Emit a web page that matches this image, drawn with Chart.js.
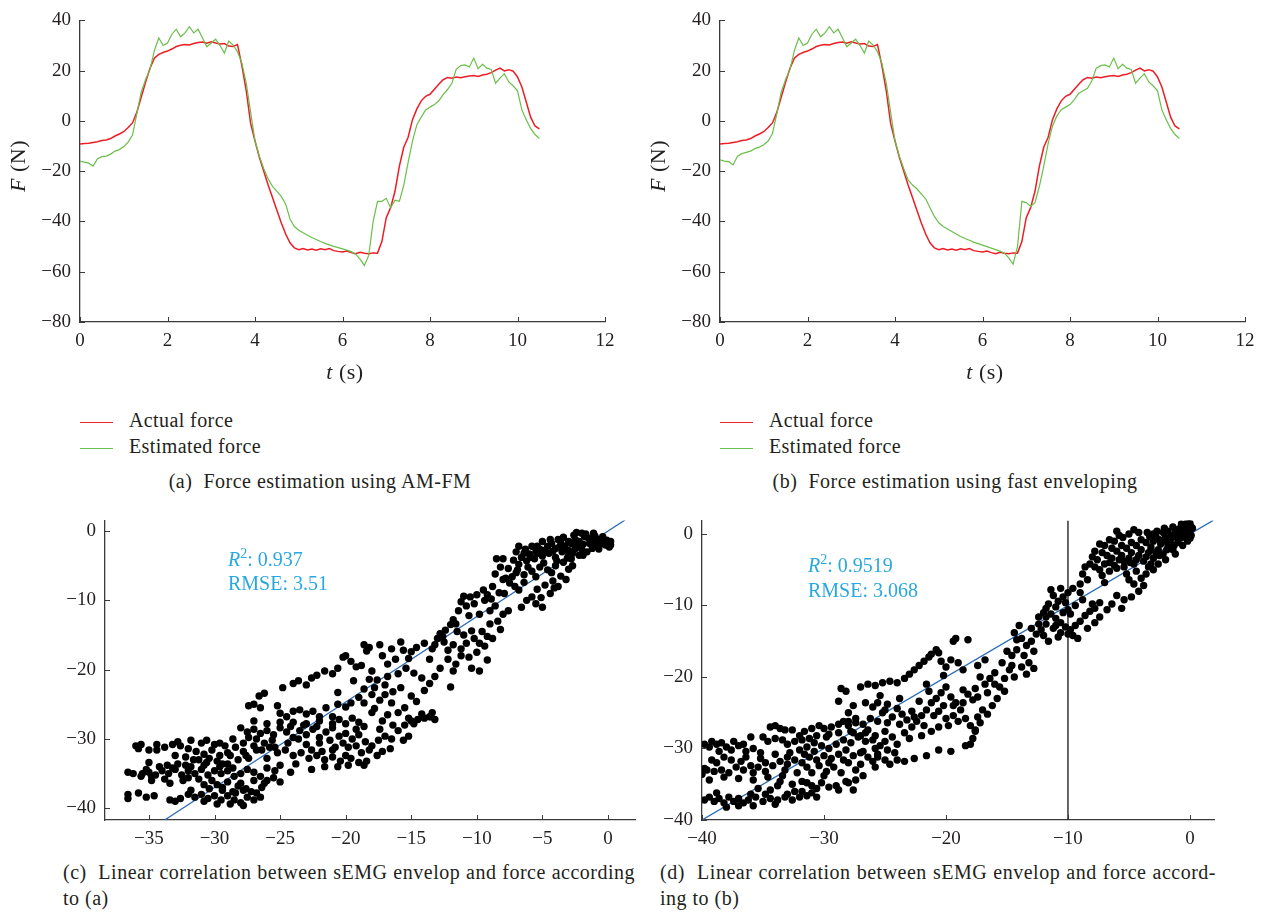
<!DOCTYPE html>
<html>
<head>
<meta charset="utf-8">
<script src="https://cdn.jsdelivr.net/npm/chart.js@4.4.1/dist/chart.umd.min.js"></script>
<style>
  body { margin: 0; background: #fff; width: 1271px; height: 913px; position: relative; overflow: hidden;
         font-family: "Liberation Serif", "DejaVu Serif", serif; color: #231f20; }
  .box { position: absolute; }
  .ytitle { position: absolute; font-size: 22px; letter-spacing: 0.5px; transform: translate(-50%, -50%) rotate(-90deg); white-space: nowrap; }
  .xtitle { position: absolute; font-size: 22px; letter-spacing: 0.5px; transform: translate(-50%, -50%); white-space: nowrap; }
  .leg { position: absolute; font-size: 20px; letter-spacing: 0.4px; white-space: nowrap; line-height: 22px; }
  .leg span.ln { display: inline-block; width: 33px; height: 0; border-top: 1.5px solid; vertical-align: middle; margin-right: 16px; }
  .stat { position: absolute; color: #29a8e0; font-size: 20px; white-space: nowrap; line-height: 1; }
  .cap { position: absolute; font-size: 20px; letter-spacing: 0.5px; white-space: nowrap; line-height: 22px; }
  .mid { transform: translateX(-50%); }
  .just { text-align: justify; text-align-last: justify; }
</style>
</head>
<body>

<div class="box" style="left:0;top:0;width:640px;height:390px"><canvas id="chartA"></canvas></div>
<div class="box" style="left:640px;top:0;width:631px;height:390px"><canvas id="chartB"></canvas></div>
<div class="box" style="left:0;top:500px;width:640px;height:360px"><canvas id="chartC"></canvas></div>
<div class="box" style="left:640px;top:500px;width:631px;height:360px"><canvas id="chartD"></canvas></div>

<div class="ytitle" style="left:18px;top:166px"><i>F</i> (N)</div>
<div class="xtitle" style="left:345px;top:372px"><i>t</i> (s)</div>
<div class="ytitle" style="left:658px;top:166px"><i>F</i> (N)</div>
<div class="xtitle" style="left:985px;top:372px"><i>t</i> (s)</div>

<div class="leg" style="left:80px;top:409px"><span class="ln" style="border-color:#e8262a"></span>Actual force</div>
<div class="leg" style="left:80px;top:435px"><span class="ln" style="border-color:#6abf4b"></span>Estimated force</div>
<div class="leg" style="left:720px;top:409px"><span class="ln" style="border-color:#e8262a"></span>Actual force</div>
<div class="leg" style="left:720px;top:435px"><span class="ln" style="border-color:#6abf4b"></span>Estimated force</div>

<div class="cap mid" style="left:320px;top:470px">(a)&nbsp; Force estimation using AM-FM</div>
<div class="cap mid" style="left:955px;top:470px">(b)&nbsp; Force estimation using fast enveloping</div>

<div class="stat" style="left:228px;top:547px"><i>R</i><sup style="font-size:14px">2</sup>: 0.937</div>
<div class="stat" style="left:228px;top:573px">RMSE: 3.51</div>
<div class="stat" style="left:808px;top:553px"><i>R</i><sup style="font-size:14px">2</sup>: 0.9519</div>
<div class="stat" style="left:808px;top:580px">RMSE: 3.068</div>

<div class="cap just" style="left:63px;top:861px;width:572px">(c)&nbsp; Linear correlation between sEMG envelop and force according</div>
<div class="cap" style="left:63px;top:887px">to (a)</div>
<div class="cap just" style="left:660px;top:861px;width:556px">(d)&nbsp; Linear correlation between sEMG envelop and force accord-</div>
<div class="cap" style="left:660px;top:887px">ing to (b)</div>

<script>
// time axis (s)
var timeS = [0.0,0.1,0.2,0.3,0.4,0.5,0.6,0.7,0.8,0.9,1.0,1.1,1.2,1.3,1.4,1.5,1.6,1.7,1.8,1.9,
  2.0,2.1,2.2,2.3,2.4,2.5,2.6,2.7,2.8,2.9,3.0,3.1,3.2,3.3,3.4,3.5,3.6,3.7,3.8,3.9,
  4.0,4.1,4.2,4.3,4.4,4.5,4.6,4.7,4.8,4.9,5.0,5.1,5.2,5.3,5.4,5.5,5.6,5.7,5.8,5.9,
  6.0,6.1,6.2,6.3,6.4,6.5,6.6,6.7,6.8,6.9,7.0,7.1,7.2,7.3,7.4,7.5,7.6,7.7,7.8,7.9,
  8.0,8.1,8.2,8.3,8.4,8.5,8.6,8.7,8.8,8.9,9.0,9.1,9.2,9.3,9.4,9.5,9.6,9.7,9.8,9.9,
  10.0,10.1,10.2,10.3,10.4,10.5];

// measured force (N)
var actualForce = [-9.2,-9.0,-8.9,-8.6,-8.3,-7.8,-7.6,-7.0,-6.0,-5.2,-4.3,-2.6,-0.8,3.5,9.5,15.5,21.0,25.0,26.5,27.2,
  27.8,28.6,29.6,30.1,30.4,30.2,30.8,31.2,31.4,30.9,31.5,31.0,30.6,30.8,29.8,29.6,30.4,22.0,12.0,-1.0,
  -8.0,-14.5,-20.0,-25.5,-30.5,-35.5,-40.5,-45.0,-48.5,-50.5,-51.2,-50.8,-51.3,-51.0,-51.4,-50.9,-51.2,-50.8,-51.6,-51.9,
  -52.1,-51.8,-52.4,-52.8,-52.3,-52.6,-52.8,-52.5,-52.6,-48.0,-38.5,-34.5,-28.0,-18.0,-10.5,-6.5,0.5,4.8,8.0,9.8,
  10.6,12.6,14.6,16.4,17.3,17.0,17.5,17.2,17.6,17.9,18.1,17.7,18.3,18.6,19.2,20.2,21.0,19.9,20.4,19.8,
  17.5,13.5,7.5,1.5,-2.0,-3.2];

// estimated force, AM-FM (N)
var estimatedAmFm = [-16.0,-16.4,-16.8,-18.0,-15.0,-14.2,-14.0,-13.2,-12.0,-11.4,-10.2,-8.4,-5.6,3.0,11.5,16.5,20.5,28.0,33.0,30.0,
  31.0,34.5,36.5,33.5,35.0,37.5,35.0,36.5,33.0,29.5,31.0,32.5,30.0,27.0,31.8,30.2,27.5,23.0,15.0,3.5,
  -8.0,-14.0,-19.0,-23.0,-26.0,-28.0,-30.0,-33.0,-39.0,-42.0,-43.5,-44.5,-45.5,-46.4,-47.2,-48.0,-48.7,-49.3,-49.9,-50.4,
  -50.9,-51.4,-52.0,-53.0,-55.0,-57.5,-53.5,-40.0,-32.0,-32.0,-30.8,-34.5,-31.5,-32.0,-25.6,-16.5,-8.0,-1.5,1.5,4.4,
  5.5,6.5,8.0,10.5,12.5,15.0,20.5,22.0,22.3,21.5,25.0,20.8,22.5,21.0,20.5,15.0,17.0,18.8,15.5,14.0,
  12.0,4.4,0.5,-3.0,-5.4,-7.0];

// estimated force, fast enveloping (N)
var estimatedFast = [-15.5,-16.0,-16.2,-17.5,-14.0,-13.0,-12.5,-12.0,-11.0,-10.4,-9.5,-8.0,-5.0,3.0,11.5,16.5,20.5,28.0,33.0,30.0,
  31.0,34.5,36.5,33.5,35.0,37.5,35.0,36.5,33.0,29.5,31.0,32.5,30.0,27.0,31.8,30.2,27.5,23.0,15.0,3.5,
  -8.0,-14.0,-19.0,-23.5,-25.5,-27.0,-29.0,-31.0,-34.5,-38.0,-40.5,-42.0,-43.0,-44.0,-45.0,-46.0,-46.8,-47.5,-48.2,-48.8,
  -49.4,-50.0,-50.6,-51.2,-51.8,-52.6,-54.5,-57.0,-50.0,-32.0,-32.5,-34.0,-32.5,-26.0,-18.0,-9.0,-2.0,2.0,4.5,5.5,
  6.5,8.5,11.0,12.0,13.0,16.0,21.0,22.0,22.3,21.5,25.0,20.8,22.5,21.0,20.5,15.0,17.0,18.8,15.5,14.0,
  12.0,4.4,0.5,-3.0,-5.4,-7.0];

var timeTicks = [0, 2, 4, 6, 8, 10, 12];
var forceTicks = [-80, -60, -40, -20, 0, 20, 40];
var corrTicksCx = [-35, -30, -25, -20, -15, -10, -5, 0];
var corrTicksCy = [-40, -30, -20, -10, 0];
var corrTicksDx = [-40, -30, -20, -10, 0];
var corrTicksDy = [-40, -30, -20, -10, 0];

// envelope vs force points, panel (c)
var corrPointsC = [
  [-2,-0.3],[-1.8,-0.8],[-1.5,-1],[-1.2,-1.2],[-1,-0.7],[-0.8,-1.5],[-0.5,-1.2],[-0.3,-1.6],[0,-1.8],[0.2,-2],[0.2,-1.5],[0.1,-2.3],
  [-0.2,-2],[-0.6,-1.9],[-1,-2.2],[-1.4,-1.8],[-2.2,-1.5],[-2.5,-1.2],[-2.8,-1.8],[-3,-1.5],[-3.3,-2.2],[-3.6,-1.6],[-4,-2.5],
  [-4.3,-1.8],[-4.6,-2.2],[-5,-1.5],[-5.2,-2.6],[-5.5,-3],[-5.8,-2.2],[-6,-3.3],[-6.3,-2.6],[-6.6,-3.8],[-7,-3],[-7.2,-4.2],
  [-6.8,-4.8],[-6.2,-4.3],[-5.6,-4],[-5,-3.6],[-4.5,-3.2],[-4,-3.8],[-3.5,-3],[-3,-2.8],[-2.5,-2.5],[-2,-2.6],[-1.6,-3],
  [-2.2,-3.5],[-2.8,-4],[-3.4,-4.5],[-4,-5],[-4.6,-5.6],[-5.2,-5.2],[-5.8,-5.8],[-6.4,-6.3],[-7,-6],[-7.6,-5.4],[-7.8,-6.8],
  [-8,-4],[-7.5,-7.5],[-3,-3.5],[-1.2,-2.5],[-0.4,-0.8],[-2.6,-0.6],[-3.8,-1.2],
  [-6.8,-2.2],[-6.4,-3.2],[-5.9,-3.8],[-5.3,-3.2],[-4.9,-2.8],[-4.2,-2.9],[-3.7,-2.3],[-3.2,-2.7],[-2.7,-3.2],[-2.3,-2.1],
  [-1.9,-1.9],[-1.3,-1.6],[-0.9,-1.1],[-0.1,-1.3],[0.1,-1.7],[-1.7,-0.4],[-2.4,-0.2],[-3.4,-0.9],[-4.4,-1.2],[-5.4,-2.2],
  [-6.1,-5.2],[-6.9,-5.6],[-7.3,-6.6],[-4.9,-4.6],[-3.9,-4.3],[-3.1,-3.9],[-4.3,-6],[-5.5,-6.6],[-6.4,-7.4],[-7.1,-8],
  [-8.3,-8.9],[-8.9,-9.8],[-7.9,-9],[-6.8,-8.5],[-5.1,-9.6],[-4.1,-8.2],[-2.7,-5],[-1.1,-0.3],[-0.7,-2.6],[-1.9,-3.5],
  [-3,-5.5],[-3.6,-6.5],[-4.2,-7.2],[-4.8,-7.8],[-5.4,-8.4],[-5.8,-9.5],[-6.2,-10],[-6.6,-11],[-5,-11],[-5.5,-10.5],
  [-4.4,-9],[-3.8,-8],[-3.2,-7],
  [-8.5,-4],[-8.2,-5.2],[-8.6,-6.2],[-8,-7],[-8.8,-8],[-9.5,-8.5],[-10,-9.2],[-10.5,-9.5],[-11,-9.4],[-11.2,-10.2],
  [-10.2,-10.5],[-9.4,-10],[-8.6,-10.8],[-9,-11.5],[-9.8,-12],[-10.6,-12.2],[-11.4,-11.5],[-11.8,-12.8],[-12,-13.5],
  [-12.4,-14.3],[-12.8,-14.8],[-11.5,-14.5],[-11,-15],[-10.2,-15.5],[-9.6,-14.5],[-9,-13.4],[-8.4,-13],[-8,-12],
  [-7.6,-11.5],[-8.2,-14.2],[-8.8,-15.5],[-9.4,-16.6],[-10,-17.5],[-10.6,-18.2],[-11.2,-17],[-11.8,-16.4],[-12.5,-16],
  [-13,-15.5],[-13.4,-17],[-12.2,-18.5],[-11.6,-19.2],[-10.4,-19.8],[-9.8,-20.2],[-12.8,-19.8],[-13.6,-18.5],[-12,-22.5],[-9.2,-18.6],
  [-9.2,-9.2],[-10.8,-10.8],[-11.6,-13.4],[-10.4,-14.4],[-9.2,-15.2],[-12.6,-15.2],[-11.2,-18],[-10.8,-16.2],[-13.2,-16.4],
  [-12.2,-17.2],[-11.8,-20.2],[-9.8,-16.2],
  [-14,-16.2],[-14.6,-16.8],[-15,-17.4],[-15.6,-17.2],[-16.2,-18.5],[-16.8,-19.2],[-15.4,-19.8],[-14.8,-20.5],[-14.2,-21.2],
  [-13.6,-22],[-13.2,-21],[-14,-23],[-15,-23.8],[-15.8,-22.6],[-16.4,-23.2],[-17,-22.2],[-17.6,-21.5],[-16.5,-24.8],
  [-15.5,-25.5],[-14.6,-24.6],[-14.2,-26.4],[-13.6,-26.8],[-15.2,-27],[-16,-26.2],[-16.8,-26.5],[-17.4,-24.4],[-18,-23.6],
  [-18.6,-24.8],[-17.8,-25.6],[-17.2,-27.4],[-16.4,-28],[-13.4,-26.2],[-14.8,-27.8],
  [-27,-25],[-26.5,-25.5],[-27.4,-25.2],[-26.2,-23.4],[-26.6,-23.8],[-25.2,-25.2],[-24.8,-22.6],[-24,-22],[-23.6,-21.6],
  [-23,-22.2],[-22.6,-21.2],[-22.2,-20.8],[-21.6,-20.2],[-21,-20.6],[-20.6,-19.8],[-20.2,-18.2],[-20,-18],[-19.6,-18.8],
  [-19.2,-19.6],[-18.8,-19.4],[-18.6,-16.4],[-18.2,-16.8],[-18.4,-17.3],[-17.4,-16.4],[-18,-20.2],[-17.2,-18],[-16.5,-17],
  [-15.8,-16],[-19.4,-21.6],[-20.6,-23.3],[-16,-20.6],[-15.2,-18.4],
  [-25,-26.3],[-24.5,-26.8],[-24,-26],[-23.5,-25.8],[-23,-26.4],[-22.5,-26],[-22,-26.8],[-21.5,-25.5],[-21,-26.8],
  [-20.5,-27.2],[-20,-27.8],[-19.5,-27],[-19,-27.6],[-18.6,-28.2],
  [-28,-28.4],[-27.5,-29],[-27,-28.6],[-26.5,-29.2],[-26,-28.8],[-25.5,-29.4],[-25,-28.4],[-24.5,-29],[-24,-29.8],
  [-23.5,-28.8],[-23,-29.4],[-22.5,-28.6],[-22,-29.8],[-21.5,-29],[-21,-28.4],[-20.5,-29.6],[-20,-29.2],[-19.5,-30],
  [-19,-29.4],[-18.5,-30.4],[-18,-31],[-17.5,-30.2],[-17,-29.6],[-16.5,-30],[-16,-28.8],[-15.5,-28],[-15,-27.4],
  [-15.2,-29.6],[-15.6,-30.2],[-14.5,-27.2],[-14,-27],[-13.5,-26.8],[-13.2,-27.2],
  [-27,-31],[-26.4,-31.6],[-25.8,-31.2],[-25.2,-32],[-24.6,-31.6],[-24,-32.4],[-23.4,-32],[-22.8,-32.8],[-22.2,-32.4],
  [-21.6,-33],[-21,-32.6],[-20.4,-33.2],[-20,-32.4],[-19.6,-32.8],[-19,-33.4],[-18.6,-33.8],[-18.4,-33.2],[-23.8,-33.6],
  [-25,-33.8],[-26,-34.2],[-21,-31.6],[-19.8,-31.2],[-22,-30.6],[-23,-30.8],[-24.4,-30.6],[-25.6,-30.2],[-26.8,-30],
  [-27,-27.4],[-26,-27.8],[-25,-27.6],[-24,-27.6],[-23,-27.8],[-22,-27.4],[-21,-27.8],[-20,-25.4],[-19.6,-24.8],
  [-20.6,-25],[-19,-24],[-18.6,-22.8],[-18.2,-21.4],[-17.8,-22.6],[-16.8,-21],[-17,-23.6],[-18,-26.2],[-17.4,-28.6],
  [-16.6,-31.4],[-17.2,-31.8],[-18.8,-32],[-19.2,-28.6],[-26,-32.8],[-27.6,-32.4],
  [-24.2,-28.2],[-23.2,-28],[-22.2,-28.2],[-21.2,-30.2],[-20.2,-30.6],[-19.2,-31],[-18.2,-31.6],[-17.6,-32.4],[-23.6,-30],
  [-25.4,-31.2],[-26.2,-30.6],[-22.6,-31.6],[-21.8,-31.8],[-20.8,-31.2],[-19.8,-33.8],[-20.6,-34],[-21.6,-34],[-22.6,-34.4],
  [-24.2,-34.8],[-25.4,-34.6],
  [-36,-31],[-35.6,-30.8],[-35,-31.6],[-34.4,-31.6],[-33.8,-31.2],[-33.2,-30.8],[-32.6,-31],[-32,-31.4],[-31.4,-31.8],
  [-30.8,-32.2],[-30.2,-31.6],[-29.6,-32.4],[-29,-32],[-28.4,-31.2],[-27.8,-30.6],[-31,-30.6],[-30,-30.8],[-29.2,-31],
  [-33,-32.4],[-32.2,-32.6],[-31.6,-33],[-30.6,-33.4],[-29.8,-33.2],[-29,-33.6],[-28.2,-33],[-27.4,-32.8],
  [-35.5,-35],[-35,-34.8],[-34.5,-35.2],[-34,-34.6],[-33.5,-35],[-33,-34.4],[-32.5,-35.2],[-32,-34.6],[-31.5,-35],
  [-31,-34.4],[-30.5,-35.2],[-30,-34.6],[-29.5,-35],[-29,-34.6],[-28.5,-35.4],[-28,-35],[-27.5,-34.4],[-27,-34.8],
  [-26.5,-35.4],[-26,-36],[-25.5,-35.6],[-25,-36.2],[-33.6,-33.8],[-32.8,-33.6],[-31.8,-34],[-30.8,-33.8],[-29.6,-34],
  [-28.6,-34.2],[-34.8,-36],[-33.8,-35.8],[-32.4,-36],[-31.2,-35.8],[-30.2,-36],[-29,-36.2],[-28,-36.4],[-27,-36],
  [-26.4,-37],[-27.6,-37.2],
  [-35.2,-34.4],[-34.2,-34],[-33.2,-34.2],[-32.2,-33.8],[-31.2,-33],[-30.4,-32.8],[-29.4,-33.6],[-28.8,-32.4],[-27.8,-31.8],
  [-26.8,-31.6],[-34.4,-30.8],[-32.8,-30.4],[-31.8,-30.2],[-30.6,-30.2],[-29.6,-30.6],[-28.6,-30],[-27.4,-29.8],[-34.8,-35.4],
  [-33.4,-36.4],[-32,-35.6],[-30.8,-36.6],[-29.4,-37],[-28.4,-37.8],[-27.2,-37.6],[-26.2,-36.4],[-31.8,-37.4],[-30.8,-39],
  [-29.8,-39.4],[-28.8,-39.4],[-33.4,-38.8],[-32.6,-38.6],[-36.2,-35],[-35,-33.4],[-36.6,-34.8],
  [-33,-39],[-32,-38],[-31.5,-38.4],[-31,-38],[-30.5,-38.6],[-30,-38.2],[-29.5,-38.8],[-29,-38.2],[-28.5,-38.8],
  [-28,-39.2],[-27.8,-39.6],[-27.5,-38.4],[-27,-38.8],[-26.5,-38.4],[-29.4,-37.4],[-28.6,-37.6],[-27.8,-37.4],
  [-30.4,-37.2],[-29.8,-36.6],[-26.8,-37.8],[-28.2,-36.8],
  [-36.6,-38],[-36.6,-38.6],[-35.8,-37.8],[-35.2,-38.4],[-34.6,-38.2],[-35.8,-31.4],[-35.6,-35.4]
];

// envelope vs force points, panel (d)
var corrPointsD = [
  [0,1.5],[0.1,1],[-0.2,0.6],[-0.4,1.2],[-0.6,0.3],[-0.8,0.8],[-1,0.2],[-1.2,0.6],[-1.5,-0.2],[-1.8,0.4],[-2,-0.5],
  [-2.2,0.2],[-2.5,-0.8],[-2.8,-0.2],[-3,-1],[-3.3,-0.4],[-3.6,-1.2],[-4,-0.8],[-4.4,-1.6],[-4.8,-1.2],[-5.2,-2],
  [-5.6,-1.6],[-6,-2.4],[-6.4,-2],[-6.8,-3],[-7.2,-2.6],[-7.6,-3.6],[-8,-3.2],[-8.2,-4.2],[-7.8,-4.6],[-7.4,-5],
  [-7,-4.2],[-6.6,-5.2],[-6.2,-4.4],[-5.8,-3.6],[-5.4,-4.6],[-5,-3.4],[-4.6,-4.2],[-4.2,-3],[-3.8,-3.8],[-3.4,-2.6],
  [-3,-3.4],[-2.6,-2.2],[-2.2,-2.8],[-1.8,-1.6],[-1.4,-2.2],[-1,-1.2],[-0.6,-1.6],[-0.3,-0.6],[0.1,-0.2],[0,0.4],
  [-0.2,-1],[-1.6,-0.8],[-2.4,-1.4],[-3.2,-1.8],[-4,-2.2],[-4.8,-2.6],[-5.6,-3],[-6.4,-3.4],[-0.5,-0.2],[-1.2,-0.4],
  [-2,-1],[-3,0],[-4.6,0.6],[-5.5,-0.5],[-6.2,-1],[-7,-1.6],[-6,0.4],
  [-0.4,0],[-0.8,-0.6],[-1.3,-1.6],[-1.9,-2.2],[-2.5,-3],[-3.2,-2.2],[-3.6,-3.2],[-4.4,-3.6],[-4.9,-4],[-5.4,-3.8],
  [-6,-4.8],[-6.6,-4],[-7.2,-5.8],[-0.2,1.6],[-0.7,1.4],[-1.4,1],[-2.1,0.8],[-2.7,0.4],[-3.5,0.2],[-4.2,0.2],[-5,0],
  [-5.8,-0.2],[-6.6,-0.8],[-7.4,-1.4],[-7.8,-2.4],[-8.6,-4.6],[-8.8,-5.6],[-7,-6.8],[-4.4,-5.2],[-3.2,-4.2],[-1.2,-2.8],
  [0.2,0.8],[0,-0.6],[-0.9,-0.2],
  [-2,-3.6],[-2.6,-4.2],[-3,-5],[-3.6,-5.6],[-4,-6.2],[-4.6,-7],[-5,-6.4],[-3.4,-4.6],[-4.2,-8],[-4.8,-8.8],[-5.4,-9.2],
  [-6,-8.6],[-6.4,-9.8],[-5.6,-10.4],[-6.8,-10.6],[-7.4,-9.6],[-7.8,-10.4],[-2.8,-2.6],[-3.8,-7.2],[-5.2,-5.6],
  [-8.4,-6.4],[-9,-7],[-9.6,-7.6],[-10,-8.2],[-10.4,-8.8],[-10.8,-9.4],[-11.2,-8.6],[-11.6,-9.8],[-11.8,-10.4],
  [-11.4,-11.2],[-11,-11.8],[-10.6,-12.4],[-10.2,-13],[-9.8,-13.4],[-9.4,-12.8],[-9,-12.2],[-8.6,-11.4],[-8.2,-10.8],
  [-8,-9.8],[-8.8,-9.2],[-9.4,-10],[-10,-10.6],[-9.6,-14.2],[-9.2,-14.6],[-10.6,-13.8],[-11.2,-13.2],[-11.8,-12.6],
  [-12.2,-13.4],[-12,-14.2],[-11.6,-15],[-10.8,-14.4],[-8.4,-13.2],[-7.8,-12.4],[-7.4,-11.6],[-9.8,-11.2],[-12.4,-11.6],
  [-11.8,-11.6],[-10.4,-11],
  [-10.2,-9.6],[-11,-10.2],[-9,-8.2],[-10.6,-7.6],[-11.4,-7.8],[-12,-11],[-12.4,-12.6],[-10,-14],[-11,-12.8],
  [-12.6,-14],[-13,-15],[-13.4,-15.6],[-13.8,-14.6],[-14.2,-16.2],[-14.6,-17],[-15,-16.4],[-14.4,-13.8],[-13.8,-18.6],
  [-13.2,-18],[-14.8,-19],[-15.4,-18],[-16,-19.4],[-16.4,-20.2],[-16.8,-21],[-17.2,-20],[-17.6,-21.6],[-16.6,-22.2],
  [-15.6,-21.4],[-15.2,-22],[-14.4,-20],[-13.4,-19.6],[-12.8,-18.8],[-15.8,-23],[-16.2,-24],[-16.6,-25.2],[-17,-24.6],
  [-17.4,-25.6],[-17.8,-23.2],[-18.2,-22.4],[-18.6,-21.8],[-16.8,-17.6],[-17.4,-18.4],[-14.2,-14.8],
  [-21,-25.4],[-22.6,-25.6],[-23.8,-26.6],[-25,-24.6],[-19.4,-24],[-18.6,-23.6],[-17.4,-22.8],[-16,-21],[-15.2,-20.2],
  [-14.6,-18.4],[-13.6,-17],[-12.8,-16.4],[-13,-13.2],[-14,-12.8],
  [-28.6,-21.6],[-28.2,-22],[-28.8,-23.4],[-27,-21.4],[-26.4,-21],[-25.8,-21.2],[-25.2,-20.8],[-24.6,-20.6],[-24,-20.8],
  [-23.4,-20.2],[-23,-19.6],[-22.6,-19],[-22.2,-18.4],[-21.8,-17.8],[-21.2,-16.8],[-20.8,-16.2],[-21.4,-17.2],
  [-20.4,-17.8],[-20,-18.6],[-19.4,-15],[-19.2,-14.6],[-18.2,-14.8],[-19.6,-17.6],[-19,-18],[-18.6,-19],[-20.6,-16.6],
  [-20.2,-19.8],[-21.6,-21],[-25.4,-22.6],[-26.6,-23.6],[-27.6,-24],[-28,-25],
  [-20,-21.4],[-20.4,-22.2],[-20.8,-23],[-20.2,-24],[-19.6,-22.8],[-19.2,-23.6],[-18.8,-24.6],[-19.4,-25.4],[-20,-25.8],
  [-20.6,-24.8],[-21.2,-23.6],[-21.6,-24.6],[-22,-25.4],[-22.4,-26.2],[-22.8,-27],[-23.2,-26],[-23.6,-25.2],[-24,-24.4],
  [-24.4,-25.6],[-24.8,-26.4],[-25.2,-25],[-25.6,-26.2],[-26,-24.2],[-25.6,-23.6],[-24.8,-23.8],[-23.8,-23],[-22.8,-24.8],
  [-21.8,-26.8],[-21.2,-27.6],[-20.6,-27],[-19.8,-26.8],[-19,-26.2],[-18.4,-25.8],[-18,-26.8],[-17.6,-27.6],[-17.2,-26.4],
  [-22.2,-23.4],[-21.4,-22],[-23.4,-27.8],[-24.4,-28.4],[-25,-27.6],[-25.8,-28.2],[-26.4,-27.4],[-27,-28.2],[-27.6,-27.8],
  [-28,-26.2],[-27.4,-25.8],[-26.8,-26.6],[-26.2,-25.8],[-23,-28.6],[-22,-28.2],[-24,-29.4],[-25,-29],
  [-17.6,-27.4],[-17.8,-28.6],[-18,-29.4],[-18.4,-29.6],[-19.6,-30.4],[-20.6,-30.2],[-21.6,-31],[-22.6,-31.4],
  [-23.4,-31.8],[-24,-31.6],
  [-39.2,-29],[-38.8,-29.4],[-38.4,-29.2],[-38,-29.8],[-37.6,-30.2],[-37,-29.6],[-36.4,-30.4],[-35.8,-30],[-35.2,-30.6],
  [-34.6,-29],[-34,-28.6],[-33.4,-28.8],[-33,-29.4],[-32.4,-29],[-31.8,-28.8],[-39.4,-29.8],[-38.6,-30.4],
  [-34.4,-27],[-34,-26.8],[-33.6,-27.2],[-33.2,-27.4],[-32.6,-27.4],[-31.6,-27.6],[-31,-27.2],[-30.4,-26.8],[-30,-27.2],
  [-29.4,-27],[-28.8,-26.6],[-28.4,-26.2],[-28,-26.8],[-27.4,-26.4],[-29.6,-28],[-30.6,-28.2],[-31.2,-28.6],[-32,-28.2],
  [-35,-28.4],[-36,-28.4],
  [-32,-30.2],[-31.4,-29.8],[-30.8,-30.4],[-30.2,-29.6],[-29.6,-30],[-29,-29.4],[-28.4,-28.8],[-27.8,-29.2],[-27.2,-28.4],
  [-26.6,-29],[-26,-28.8],[-25.4,-29.6],[-24.8,-30.2],[-24.2,-30.6],[-25.6,-30.8],[-26.4,-31.2],[-27,-30.6],[-27.6,-31],
  [-28.2,-30.2],[-28.8,-30.8],[-29.4,-31.4],[-30,-31],[-30.6,-31.6],[-31.2,-31.2],[-31.8,-32],[-32.4,-31.6],[-33,-32.2],
  [-33.6,-31.8],[-34.2,-32.4],[-34.8,-32],[-35.4,-32.6],[-36,-32.4],[-36.6,-33],[-37.2,-32.6],[-37.8,-33.4],[-38.4,-33],
  [-39,-33.2],[-39.6,-33],[-40,-33.2],[-38.8,-32],[-37.6,-31.6],[-36.4,-31.2],[-35.2,-31.4],[-34,-30.8],[-32.8,-30.6],
  [-31.6,-30.8],[-30.4,-32.4],[-29.2,-32.6],[-28,-32],[-27,-32.2],[-26,-31.8],[-25,-31.6],[-24.6,-32.2],[-25.8,-32.6],
  [-27.4,-33],[-28.6,-33.4],[-29.8,-33.2],[-31,-33.4],[-32.2,-33.4],[-33.4,-33.8],[-34.6,-34],[-35.8,-34.4],[-37,-34.2],
  [-38.2,-34],[-39.4,-34.4],[-33.8,-35.2],[-32.6,-35],[-31.4,-34.8],[-30.2,-34.8],[-29,-35.2],[-28.2,-34.6],[-27.4,-34.4],
  [-26.8,-33.8],[-28.8,-35.8],[-30.6,-35.6],[-31.8,-36],[-33,-36.4],[-34.4,-35.8],[-35.4,-35.6],[-28,-34.8],
  [-34.8,-33.2],[-33.2,-33],[-31.4,-32.6],[-29.6,-32],[-28.4,-31.6],[-26.8,-30.4],[-25.8,-30],[-30,-33.8],[-31.8,-34.6],
  [-33.6,-34.6],[-35.8,-33.4],[-36.8,-31.8],[-38.2,-31.2],[-39.2,-31.6],[-33,-31.2],[-30.8,-29.2],[-29.8,-28.4],
  [-28.8,-27.8],[-27.8,-27.6],[-26.6,-27.8],[-37.4,-29],[-36.6,-29.4],[-39.8,-29.4],[-38.8,-36.2],[-36,-36.4],
  [-34.8,-36.4],[-32.4,-36],[-31,-35.2],[-29.6,-35.4],[-27.6,-35.8],[-25.6,-31.2],
  [-39.8,-37.2],[-39.4,-36.8],[-39,-37.4],[-38.6,-37],[-38.2,-37.6],[-37.8,-36.8],[-37.4,-37.4],[-37,-37],[-36.6,-37.6],
  [-36.2,-37.2],[-35.6,-36.8],[-35,-37.4],[-34.4,-37],[-33.8,-37.2],[-33.2,-36.8],[-32.6,-37.2],[-32,-36.8],[-31.4,-36.6],
  [-31,-36.2],[-30.6,-36.8],[-38,-38.2],[-37,-38],[-35.8,-38],[-34,-37.8],[-40,-33.6],[-39.8,-32.8]
];

// fitted lines (endpoints)
var fitLineC = [[-33.8, -41.7], [1.3, 1.6]];
var fitLineD = [[-40, -40], [1.9, 1.9]];
var markerLineD = [[-10, -40], [-10, 1.9]];

var axisColor = '#3a3a3a';
var tickFont = { family: '"Liberation Serif", "DejaVu Serif", serif', size: 19 };

function toXY(xs, ys) { return xs.map((x, i) => ({ x: x, y: ys[i] })); }
function pairs(list) { return list.map(p => ({ x: p[0], y: p[1] })); }
function minus(v) { return String(v).replace('-', '\u2212'); }

// small tick marks drawn inside the plot, as in the figure
var innerTicks = {
    id: 'innerTicks',
    afterDraw(chart) {
        var ctx = chart.ctx, xs = chart.scales.x, ys = chart.scales.y;
        ctx.save();
        ctx.strokeStyle = axisColor;
        ctx.lineWidth = 1;
        ctx.beginPath();
        xs.ticks.forEach(t => {
            var px = Math.round(xs.getPixelForValue(t.value)) + 0.5;
            ctx.moveTo(px, xs.top);
            ctx.lineTo(px, xs.top - 5);
        });
        ys.ticks.forEach(t => {
            var py = Math.round(ys.getPixelForValue(t.value)) + 0.5;
            ctx.moveTo(ys.right, py);
            ctx.lineTo(ys.right + 5, py);
        });
        ctx.stroke();
        ctx.restore();
    }
};

function axis(min, max, tickList, size, isY) {
    return {
        type: 'linear', min: min, max: max,
        grid: { display: false, drawTicks: false },
        border: { display: true, color: axisColor, width: 1.3 },
        afterBuildTicks: s => { s.ticks = tickList.map(v => ({ value: v })); },
        afterFit: s => { if (isY) s.width = size; else s.height = size; },
        ticks: { font: tickFont, color: '#231f20', padding: isY ? 9 : 8, callback: v => minus(v) }
    };
}

function forceChart(id, estimated, padRight) {
    new Chart(document.getElementById(id), {
        type: 'line',
        data: {
            datasets: [
                { label: 'Estimated force', data: toXY(timeS, estimated), borderColor: '#6abf4b', borderWidth: 1.2, pointRadius: 0, tension: 0 },
                { label: 'Actual force', data: toXY(timeS, actualForce), borderColor: '#ee1c24', borderWidth: 1.5, pointRadius: 0, tension: 0 }
            ]
        },
        options: {
            responsive: true, maintainAspectRatio: false, animation: false,
            layout: { padding: { top: 15, right: padRight, left: 0, bottom: 0 } },
            plugins: { legend: { display: false }, tooltip: { enabled: false } },
            scales: {
                x: axis(0, 12, timeTicks, 68, false),
                y: axis(-80, 40, forceTicks, 80, true)
            }
        },
        plugins: [innerTicks]
    });
}

function corrChart(id, points, fit, xr, yr, xt, yt, yWidth, pad, extra) {
    var sets = [
        { data: pairs(points), type: 'scatter', backgroundColor: '#000', borderColor: '#000', pointRadius: 3.7, borderWidth: 0 },
        { data: pairs(fit), type: 'line', borderColor: '#2b6cb8', borderWidth: 1.3, pointRadius: 0 }
    ];
    if (extra) sets.push({ data: pairs(extra), type: 'line', borderColor: '#000', borderWidth: 1.2, pointRadius: 0 });
    new Chart(document.getElementById(id), {
        type: 'scatter',
        data: { datasets: sets },
        options: {
            responsive: true, maintainAspectRatio: false, animation: false,
            layout: { padding: pad },
            plugins: { legend: { display: false }, tooltip: { enabled: false } },
            scales: {
                x: axis(xr[0], xr[1], xt, 40, false),
                y: axis(yr[0], yr[1], yt, yWidth, true)
            }
        },
        plugins: [innerTicks]
    });
}

forceChart('chartA', estimatedAmFm, 35);
forceChart('chartB', estimatedFast, 26);
corrChart('chartC', corrPointsC, fitLineC, [-38.35, 2.06], [-41.7, 1.54], corrTicksCx, corrTicksCy, 105,
    { top: 12, right: 5, left: 0, bottom: 0 });
corrChart('chartD', corrPointsD, fitLineD, [-40, 1.97], [-40, 1.9], corrTicksDx, corrTicksDy, 62,
    { top: 13, right: 57, left: 0, bottom: 0 }, markerLineD);
</script>
</body>
</html>
